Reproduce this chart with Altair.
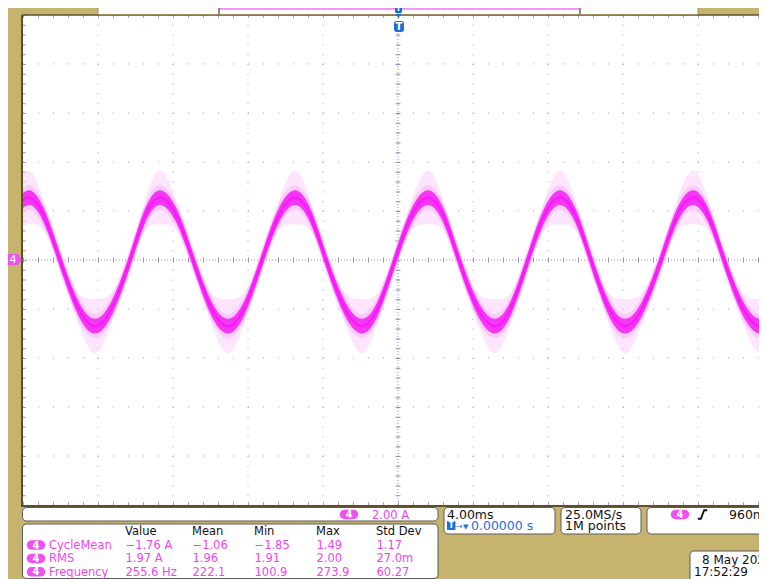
import altair as alt
import pandas as pd

FONT = "DejaVu Sans"
BEIGE = "#c6b46e"
FRAME = "#5e4f2f"
MAG_TEXT = "#ee46ee"
PILL = "#f050f0"
BLUE = "#1c6fd6"
GRID = "#a99bc2"
CENTER = "#9a8cbe"
BOX_STROKE = "#5a5a5a"

# ---- waveform key points (time in ms, current in A) ----
t_ms = [-20.59, -19.73, -18.88, -18.03, -17.09, -16.16, -15.23, -14.29, -13.49,
        -12.69, -11.81, -10.93, -10.00, -9.07, -8.16, -7.25, -6.37,
        -5.49, -4.67, -3.84, -2.88, -1.92, -1.04, -0.16, 0.72,
        1.60, 2.43, 3.25, 4.21, 5.17, 6.05, 6.93, 7.79,
        8.64, 9.47, 10.29, 11.20, 12.11, 13.07, 14.03, 14.88,
        15.73, 16.56, 17.39, 18.35, 19.31, 20.16, 21.07]
i_A = [1.80, 2.55, 1.80, 0.00, -1.90, -2.70, -1.90, 0.00, 1.80,
       2.55, 1.80, 0.00, -1.90, -2.70, -1.90, 0.00, 1.80,
       2.55, 1.80, 0.00, -1.90, -2.70, -1.90, 0.00, 1.80,
       2.55, 1.80, 0.00, -1.90, -2.70, -1.90, 0.00, 1.80,
       2.55, 1.80, 0.00, -1.90, -2.70, -1.90, 0.00, 1.80,
       2.55, 1.80, 0.00, -1.90, -2.70, -1.90, 0.00]
# half-height of the faint noise spikes around the trace (A)
noise_A = [0.60, 1.10, 0.60, 0.35, 0.60, 1.10, 0.60, 0.35, 0.60,
           1.10, 0.60, 0.35, 0.60, 1.10, 0.60, 0.35, 0.60,
           1.10, 0.60, 0.35, 0.60, 1.10, 0.60, 0.35, 0.60,
           1.10, 0.60, 0.35, 0.60, 1.10, 0.60, 0.35, 0.60,
           1.10, 0.60, 0.35, 0.60, 1.10, 0.60, 0.35, 0.60,
           1.10, 0.60, 0.35, 0.60, 1.10, 0.60, 0.35]
band_A = 0.30      # half-height of the dense trace band (A)
mid_A = 0.50

# graticule (4 ms/div, 2 A/div)
grid_t = [-20, -16, -12, -8, -4, 0, 4, 8, 12, 16, 20]
grid_i = [-10, -8, -6, -4, -2, 0, 2, 4, 6, 8, 10]
t_left, t_right = -20, 22
i_top, i_bottom = 10, -10

# measurement table
meas_headers = ["Value", "Mean", "Min", "Max", "Std Dev"]
meas_names = ["CycleMean", "RMS", "Frequency"]
meas_value = ["\u22121.76 A", "1.97 A", "255.6 Hz"]
meas_mean = ["\u22121.06", "1.96", "222.1"]
meas_min = ["\u22121.85", "1.91", "100.9"]
meas_max = ["1.49", "2.00", "273.9"]
meas_std = ["1.17", "27.0m", "60.27"]

ch_label = "4"
ch_scale = "2.00 A"
timebase = "4.00ms"
trig_pos = "0.00000 s"
sample_rate = "25.0MS/s"
rec_len = "1M points"
trig_level = "960mA"
date_str = "8 May 2025"
time_str = "17:52:29"

# ---------------------------------------------------------------------------
OX, OY = 8, 8  # page margin: reference pixel -> chart pixel
W, H = 751, 571


def vx(X):
    return alt.value(X - OX)


def vy(Y):
    return alt.value(Y - OY)


# 75 px per 4 ms division, 49 px per 2 A division, screen centre at (398, 260)
xs = alt.Scale(domain=[-20.8, -20.8 + W * 4 / 75], nice=False, zero=False)
ys = alt.Scale(domain=[-13.0204, 10.2857], nice=False, zero=False)

one = alt.Chart(pd.DataFrame({"k": [0]}))


def rect(X1, Y1, X2, Y2, **kw):
    return one.mark_rect(**kw).encode(x=vx(X1), x2=vx(X2), y=vy(Y1), y2=vy(Y2))


def text(X, Y, s, size=11.5, color="#111111", align="left", baseline="alphabetic", **kw):
    return one.mark_text(text=s, font=FONT, fontSize=size, color=color,
                         align=align, baseline=baseline, **kw).encode(x=vx(X), y=vy(Y))


def pill(X1, X2, Y, label):
    return [
        one.mark_rule(color=PILL, strokeWidth=9.5, strokeCap="round").encode(
            x=vx(X1 + 4.5), x2=vx(X2 - 4.5), y=vy(Y)),
        text((X1 + X2) / 2, Y + 0.5, label, size=10, color="white", align="center",
             baseline="middle", fontWeight="bold"),
    ]


def vrules(ts, **kw):
    df = pd.DataFrame({"t": ts, "top": [i_top] * len(ts), "bot": [i_bottom] * len(ts)})
    return alt.Chart(df).mark_rule(**kw).encode(
        x=alt.X("t:Q", scale=xs, axis=None),
        y=alt.Y("top:Q", scale=ys, axis=None), y2="bot:Q")


def hrules(iv, **kw):
    df = pd.DataFrame({"i": iv, "l": [t_left] * len(iv), "r": [t_right] * len(iv)})
    return alt.Chart(df).mark_rule(**kw).encode(
        y=alt.Y("i:Q", scale=ys, axis=None),
        x=alt.X("l:Q", scale=xs, axis=None), x2="r:Q")


layers = []

# screen
layers.append(rect(22, 15, 800, 506, fill="white"))

# graticule dots
layers.append(vrules(grid_t, color=GRID, strokeWidth=1, strokeDash=[1, 8.8]))
layers.append(hrules(grid_i, color=GRID, strokeWidth=1, strokeDash=[1, 14]))

# center cross with ticks
layers.append(hrules([0], color=CENTER, strokeWidth=1, strokeDash=[1, 2]))
layers.append(hrules([0], color=CENTER, strokeWidth=5, strokeDash=[1, 14]))
layers.append(vrules([0], color=CENTER, strokeWidth=1, strokeDash=[1, 2]))
layers.append(vrules([0], color=CENTER, strokeWidth=5, strokeDash=[1, 8.8]))

# edge ticks
layers.append(vrules([t_left], color=GRID, strokeWidth=3, strokeDash=[1, 8.8], xOffset=1.5))
layers.append(hrules([i_top], color=GRID, strokeWidth=3, strokeDash=[1, 14], yOffset=1.5))
layers.append(hrules([i_bottom], color=GRID, strokeWidth=3, strokeDash=[1, 14], yOffset=-1.5))

# waveform
wave_df = pd.DataFrame({"t": t_ms, "i": i_A, "n": noise_A})
wave_df["hi"] = wave_df["i"] + wave_df["n"]
wave_df["lo"] = wave_df["i"] - wave_df["n"]
wave_df["mhi"] = wave_df["i"] + mid_A
wave_df["mlo"] = wave_df["i"] - mid_A
wave_df["bhi"] = wave_df["i"] + band_A
wave_df["blo"] = wave_df["i"] - band_A
wv = alt.Chart(wave_df)
X_T = alt.X("t:Q", scale=xs, axis=None)
layers.append(wv.mark_area(interpolate="natural", color="#fbd4fb", opacity=0.6).encode(
    x=X_T, y=alt.Y("hi:Q", scale=ys, axis=None), y2="lo:Q"))
layers.append(wv.mark_area(interpolate="natural", color="#f8aef8", opacity=0.45).encode(
    x=X_T, y=alt.Y("mhi:Q", scale=ys, axis=None), y2="mlo:Q"))
layers.append(wv.mark_area(interpolate="natural", color="#f536f5").encode(
    x=X_T, y=alt.Y("bhi:Q", scale=ys, axis=None), y2="blo:Q"))
layers.append(wv.mark_line(interpolate="natural", color="#f81af8", strokeWidth=2.5).encode(
    x=X_T, y=alt.Y("i:Q", scale=ys, axis=None)))

# bezel around the screen
layers.append(rect(-10, -10, 22, 700, fill=BEIGE))
layers.append(rect(-10, 506, 800, 700, fill=BEIGE))
layers.append(rect(-10, -10, 800, 15, fill=BEIGE))
layers.append(one.mark_rule(color=FRAME, strokeWidth=2).encode(x=vx(22), y=vy(15), y2=vy(507)))
layers.append(one.mark_rule(color=FRAME, strokeWidth=2).encode(x=vx(22), x2=vx(800), y=vy(506)))
layers.append(one.mark_rule(color=FRAME, strokeWidth=1.5).encode(x=vx(22), x2=vx(800), y=vy(15)))

# record view bar at the top
layers.append(rect(98, 3, 698, 14.5, fill="white", stroke="#9c8d5e", strokeWidth=1))
layers.append(one.mark_rule(color="#f48af4", strokeWidth=2).encode(x=vx(219), x2=vx(579), y=vy(8.7)))
layers.append(one.mark_rule(color="#666666", strokeWidth=1.5).encode(x=vx(219), y=vy(3), y2=vy(14)))
layers.append(one.mark_rule(color="#666666", strokeWidth=1.5).encode(x=vx(580), y=vy(3), y2=vy(14)))
layers.append(rect(395, 4, 402, 13, fill=BLUE, cornerRadius=1.5))
layers.append(text(398.5, 9, "T", size=7, color="white", align="center", baseline="middle", fontWeight="bold"))
layers.append(one.mark_point(shape="triangle-down", size=28, filled=True, color=BLUE, opacity=1).encode(
    x=vx(398.5), y=vy(16)))
layers.append(rect(394, 21, 404, 32, fill=BLUE, cornerRadius=2.5))
layers.append(text(399, 27, "T", size=10, color="white", align="center", baseline="middle", fontWeight="bold"))

# channel 4 ground marker
layers.append(one.mark_point(shape="M-1,-0.73 L0.45,-0.73 L1,0 L0.45,0.73 L-1,0.73 Z", size=225,
                             filled=True, color=PILL, opacity=1).encode(x=vx(14.5), y=vy(259.5)))
layers.append(text(13, 260, ch_label, size=11, color="white", align="center", baseline="middle"))

# channel scale box
layers.append(rect(22.5, 507.5, 438, 521, fill="white", stroke=BOX_STROKE, strokeWidth=1, cornerRadius=4))
layers += pill(340, 358, 514.5, ch_label)
layers.append(text(372, 519, ch_scale, color=MAG_TEXT))

# measurement box
layers.append(rect(22.5, 524, 438, 578.5, fill="white", stroke=BOX_STROKE, strokeWidth=1, cornerRadius=4))
col_x = [125, 192, 254, 316, 376]
row_base = [548.8, 562.2, 575.6]
row_mid = [545, 558.4, 571.8]
for cx, h in zip(col_x, meas_headers):
    layers.append(text(cx, 535, h, color="#111111"))
columns = [meas_value, meas_mean, meas_min, meas_max, meas_std]
for r, name in enumerate(meas_names):
    layers += pill(27, 45, row_mid[r], ch_label)
    layers.append(text(49, row_base[r], name, color=MAG_TEXT))
    for cx, col in zip(col_x, columns):
        layers.append(text(cx + 0.5, row_base[r], col[r], color=MAG_TEXT))

# horizontal (timebase) box
layers.append(rect(444, 507.5, 555, 534, fill="white", stroke=BOX_STROKE, strokeWidth=1, cornerRadius=4))
layers.append(text(447, 518.5, timebase, size=12.5))
layers.append(rect(447, 521, 455.5, 530, fill=BLUE, cornerRadius=1))
layers.append(text(451.2, 526, "T", size=8, color="white", align="center", baseline="middle", fontWeight="bold"))
layers.append(text(456, 529, "\u2192", size=8, color=BLUE))
layers.append(text(463, 529, "\u25BC", size=7, color=BLUE))
layers.append(text(471, 530, trig_pos, size=12.5, color=BLUE))

# acquisition box
layers.append(rect(561, 507.5, 641, 534, fill="white", stroke=BOX_STROKE, strokeWidth=1, cornerRadius=4))
layers.append(text(565, 518.5, sample_rate, size=12.5))
layers.append(text(565, 530, rec_len, size=12.5))

# trigger box
layers.append(rect(647, 507.5, 800, 534, fill="white", stroke=BOX_STROKE, strokeWidth=1, cornerRadius=4))
layers += pill(671, 689, 514.5, ch_label)
layers.append(one.mark_point(shape="M-1,0.9 L-0.35,0.9 L0.35,-0.9 L1,-0.9", size=90, filled=False,
                             color="#111111", strokeWidth=1.8, opacity=1).encode(x=vx(702.5), y=vy(514.5)))
layers.append(text(729, 519, trig_level, size=12.5))

# date / time box
layers.append(rect(690, 551, 800, 700, fill="white", stroke=BOX_STROKE, strokeWidth=1, cornerRadius=4))
layers.append(text(702, 564, date_str, size=12))
layers.append(text(694, 576, time_str, size=12))

chart = alt.layer(*layers).properties(
    width=W, height=H, padding=0,
    autosize=alt.AutoSizeParams(type="none"),
    background=BEIGE,
).configure_view(strokeWidth=0)

chart.save("out.html", embed_options={"renderer": "svg", "actions": False})
